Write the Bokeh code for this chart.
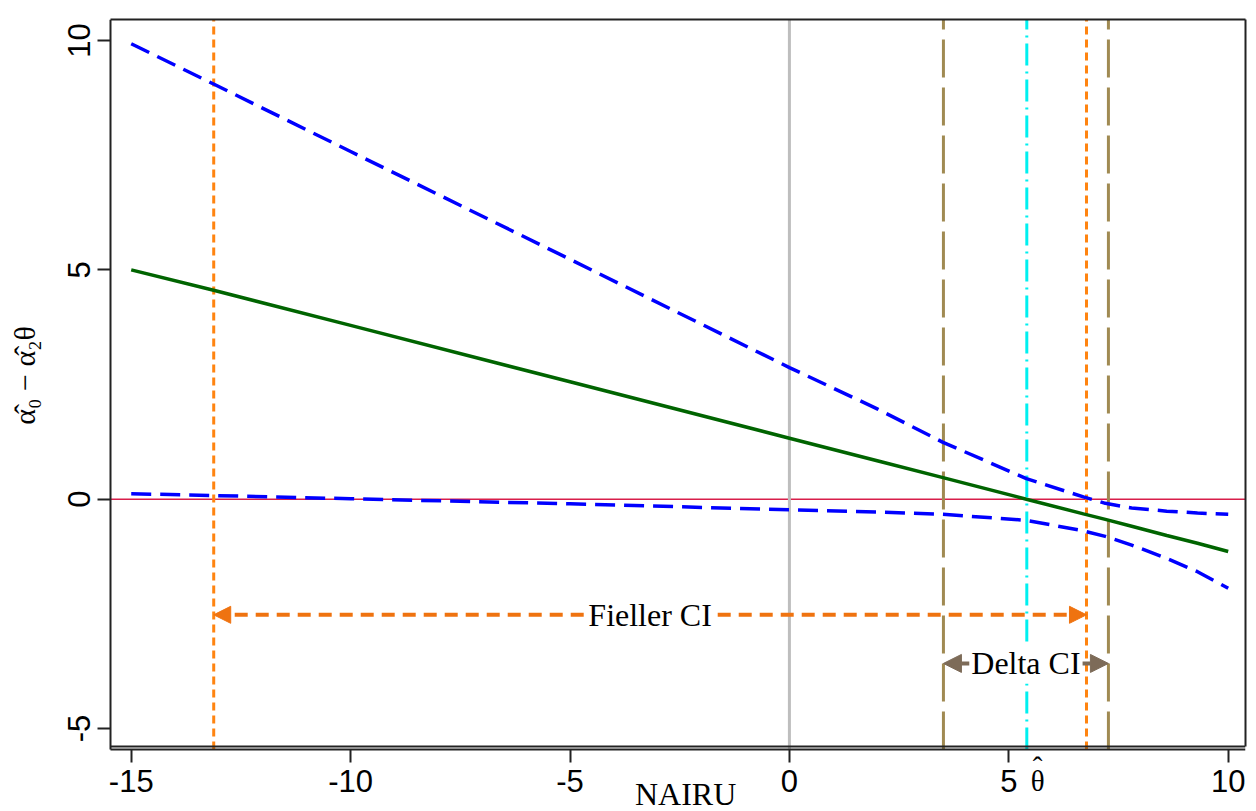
import math
from bokeh.plotting import figure
from bokeh.models import Range1d, FixedTicker, Label, Arrow, NormalHead, LinearAxis
from bokeh.embed import file_html
from bokeh.resources import INLINE

# ---- data ----
x_nairu = [-15, -13.1, -10, -5, 0, 2, 3.5, 5.4, 6.7, 7.2, 7.8, 8.6, 9.3, 10]
estimate = [5.00, 4.55, 3.79, 2.56, 1.33, 0.84, 0.47, 0.00, -0.32, -0.44, -0.59, -0.79, -0.96, -1.14]
upper_ci = [9.93, 9.04, 7.58, 5.23, 2.87, 1.97, 1.24, 0.45, 0.05, -0.09, -0.19, -0.26, -0.30, -0.33]
lower_ci = [0.12, 0.08, 0.01, -0.10, -0.23, -0.28, -0.33, -0.46, -0.69, -0.81, -1.00, -1.29, -1.58, -1.94]

fieller_ci = [-13.12, 6.77]
delta_ci = [3.51, 7.27]
theta_hat = 5.41
zero_line = 0.0
ref_x = 0.0
fieller_arrow_y = -2.52
delta_arrow_y = -3.58

x_ticks = [-15, -10, -5, 0, 5, 10]
x_tick_labels = ["-15", "-10", "-5", "0", "5", "10"]
y_ticks = [-5, 0, 5, 10]
y_tick_labels = ["-5", "0", "5", "10"]

x_label = "NAIRU"
y_label = "α̂₀ − α̂₂θ"
theta_label = "θ"
hat_label = "ˆ"
fieller_label = "Fieller CI"
delta_label = "Delta CI"

# axes box (data units) and the wider frame that also holds the axis texts
X_BOX = (-15.47, 10.394)
Y_BOX = (-5.458, 10.458)
X_RANGE = (-17.979, 10.394)
Y_RANGE = (-6.808, 10.458)
INNER_GAP = 3.3 / 45.87

SERIF = "Liberation Serif"
SANS = "Liberation Sans"
AXIS_COLOR = "#222222"

p = figure(width=1256, height=811,
           x_range=Range1d(*X_RANGE), y_range=Range1d(*Y_RANGE),
           x_axis_location=None, y_axis_location=None,
           output_backend="svg", toolbar_location=None,
           min_border_left=0, min_border_right=11,
           min_border_top=19, min_border_bottom=0,
           background_fill_color="white", border_fill_color="white")
p.xgrid.visible = False
p.ygrid.visible = False
p.outline_line_color = None


def style_axis(ax):
    ax.axis_line_color = AXIS_COLOR
    ax.axis_line_width = 2
    ax.major_tick_line_color = AXIS_COLOR
    ax.major_tick_line_width = 2
    ax.major_tick_out = 13
    ax.major_tick_in = 0
    ax.minor_tick_line_color = None
    ax.major_label_text_font = SANS
    ax.major_label_text_font_size = "31px"
    ax.major_label_text_color = "black"


# y axis on the left edge of the box
yax = LinearAxis(fixed_location=X_BOX[0], bounds=Y_BOX, ticker=FixedTicker(ticks=y_ticks),
                 major_label_overrides={t: s for t, s in zip(y_ticks, y_tick_labels)})
style_axis(yax)
yax.major_label_orientation = "vertical"
yax.major_label_standoff = 8
p.add_layout(yax, "left")

# x axis on the bottom edge of the box
xax = LinearAxis(fixed_location=Y_BOX[0], bounds=X_BOX, ticker=FixedTicker(ticks=x_ticks),
                 major_label_overrides={t: s for t, s in zip(x_ticks, x_tick_labels)})
style_axis(xax)
xax.major_label_standoff = 7
p.add_layout(xax, "below")

# remaining box edges: inner bottom line, top and right
def plain_axis(**kw):
    return LinearAxis(ticker=FixedTicker(ticks=[]), axis_line_color=AXIS_COLOR,
                      axis_line_width=2, major_tick_line_color=None,
                      minor_tick_line_color=None, **kw)

p.add_layout(plain_axis(fixed_location=Y_BOX[0] + INNER_GAP, bounds=X_BOX), "below")
p.add_layout(plain_axis(bounds=X_BOX), "above")
p.add_layout(plain_axis(bounds=(Y_BOX[0] + INNER_GAP, Y_BOX[1])), "right")

# reference lines
lo, hi = Y_BOX
p.segment([X_BOX[0]], [zero_line], [X_BOX[1]], [zero_line], line_color="#d81e4a", line_width=1.5)
p.segment([ref_x], [lo], [ref_x], [hi], line_color="#bebebe", line_width=3)
p.segment(fieller_ci, [lo] * 2, fieller_ci, [hi] * 2, line_color="#ff8410",
          line_width=3, line_dash="8 5")
p.segment(delta_ci, [lo] * 2, delta_ci, [hi] * 2, line_color="#a08a52",
          line_width=3, line_dash="38 10")
p.segment([theta_hat], [lo], [theta_hat], [hi], line_color="#00f0f0",
          line_width=3, line_dash="22 6 2 6")

# curves
p.line(x_nairu, upper_ci, line_color="#0000ff", line_width=3.5, line_dash="20 9")
p.line(x_nairu, lower_ci, line_color="#0000ff", line_width=3.5, line_dash="20 9")
p.line(x_nairu, estimate, line_color="#006400", line_width=3.5)

# CI arrows
F_COL = "#ef7310"
p.add_layout(Arrow(x_start=fieller_ci[0], y_start=fieller_arrow_y,
                   x_end=fieller_ci[1], y_end=fieller_arrow_y,
                   start=NormalHead(size=17, fill_color=F_COL, line_color=F_COL, line_width=1),
                   end=NormalHead(size=17, fill_color=F_COL, line_color=F_COL, line_width=1),
                   line_color=F_COL, line_width=4, line_dash="13 8"))
D_COL = "#7d6b58"
p.add_layout(Arrow(x_start=delta_ci[0], y_start=delta_arrow_y,
                   x_end=delta_ci[1], y_end=delta_arrow_y,
                   start=NormalHead(size=18, fill_color=D_COL, line_color=D_COL, line_width=1),
                   end=NormalHead(size=18, fill_color=D_COL, line_color=D_COL, line_width=1),
                   line_color=D_COL, line_width=4))

p.add_layout(Label(x=sum(fieller_ci) / 2, y=fieller_arrow_y, text=fieller_label,
                   text_align="center", text_baseline="middle",
                   text_font=SERIF, text_font_size="32px", text_color="black",
                   background_fill_color="white", padding=2))
p.add_layout(Label(x=sum(delta_ci) / 2, y=delta_arrow_y, text=delta_label,
                   text_align="center", text_baseline="middle",
                   text_font=SERIF, text_font_size="32px", text_color="black",
                   background_fill_color="white", padding=2))

# axis titles and the theta-hat marker
p.add_layout(Label(x=-2.365, y=-6.42, text=x_label, text_align="center",
                   text_baseline="middle", text_font=SERIF,
                   text_font_size="32px", text_color="black"))
p.add_layout(Label(x=-17.43, y=2.70, text=y_label, angle=math.pi / 2,
                   text_align="center", text_baseline="middle", text_font=SERIF,
                   text_font_size="30px", text_color="black"))
p.add_layout(Label(x=5.656, y=-6.15, text=theta_label, text_align="center",
                   text_baseline="middle", text_font=SERIF,
                   text_font_size="29px", text_color="black"))
p.add_layout(Label(x=5.656, y=-5.83, text=hat_label, text_align="center",
                   text_baseline="middle", text_font=SERIF,
                   text_font_size="29px", text_color="black"))

open("out.html", "w").write(file_html(p, INLINE))
